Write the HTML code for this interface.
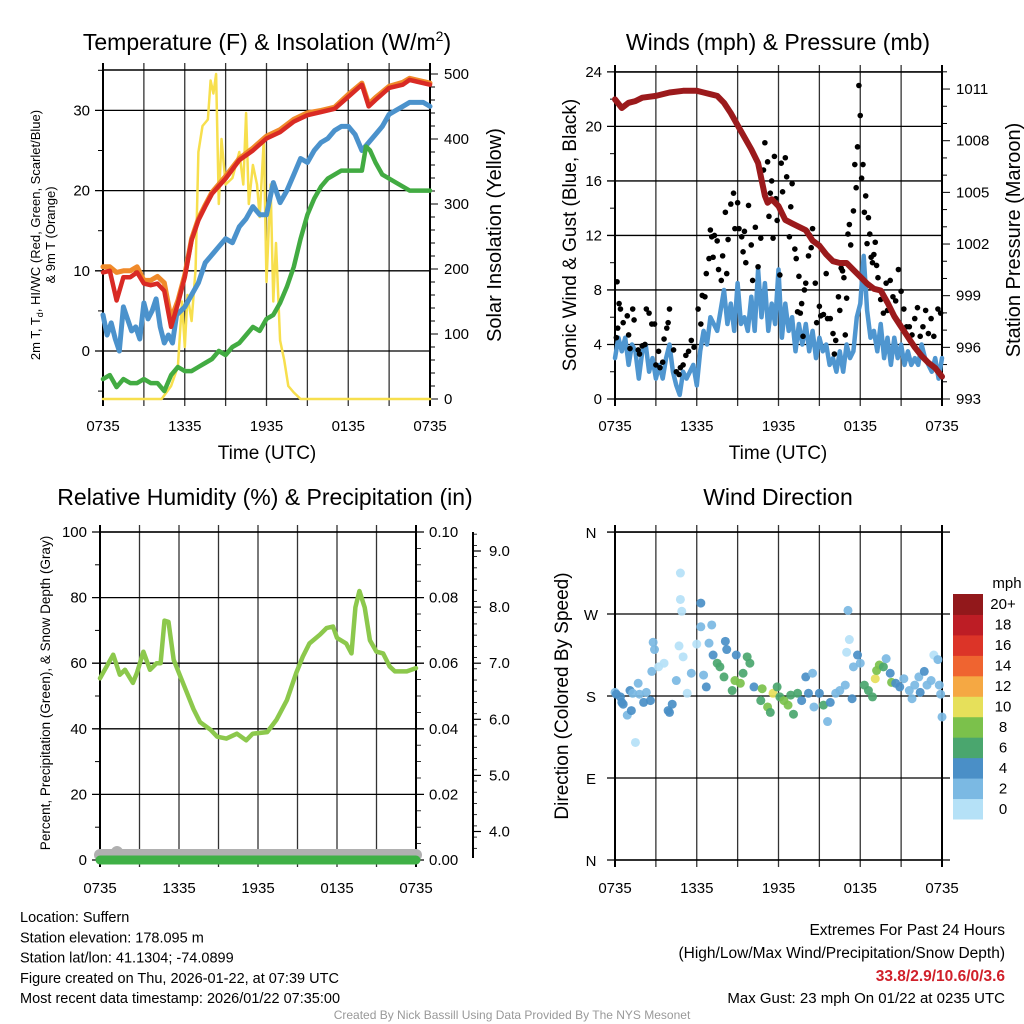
<!DOCTYPE html>
<html><head><meta charset="utf-8"><style>
body{margin:0;background:#fff}
svg{font-family:"Liberation Sans",sans-serif;display:block}
</style></head><body>
<svg id="c" width="1024" height="1024" viewBox="0 0 1024 1024" xmlns="http://www.w3.org/2000/svg"></svg>
<script>
// ---------- DATA ----------
const timeLabels=["0735","1335","1935","0135","0735"];
// Panel 1
const tHours=[0,0.5,1,1.5,2,2.5,3,3.5,4,4.5,5,5.5,6,6.5,7,7.5,8,9,10,11,12,13,14,15,16,17,18,19,19.5,20,21,22,22.5,23,24];
const tempRed=[9.8,10,6.3,9.2,9.2,9.8,8.4,8.2,8.4,7.5,3,5.9,9.2,13.8,16.3,18,19.6,21.5,23.8,25,26.5,27.3,28.6,29.4,29.8,30.2,31.7,33.2,30.5,31.3,32.8,33.2,33.8,33.6,33.2];
const tempOrange=[10.5,10.5,9.8,10,10,10.5,8.8,8.8,9.3,8.5,4,6.3,9.5,14,16.5,18.2,19.8,21.8,24,25.3,26.8,27.6,28.9,29.7,30,30.4,32,33.4,30.8,31.6,33,33.5,34,33.8,33.4];
const bHours=[0,0.3,0.6,0.9,1.2,1.5,1.8,2.1,2.4,2.7,3,3.3,3.6,3.9,4.2,4.5,4.8,5.1,5.4,5.7,6,6.5,7,7.5,8,8.5,9,9.5,10,10.5,11,11.5,12,12.5,13,13.5,14,14.5,15,15.5,16,16.5,17,17.5,18,18.5,19,19.5,20,20.5,21,21.5,22,22.5,23,23.5,24];
const tempBlue=[4.5,2,3.5,1.5,0,5.5,4,2.5,3,1.5,6,4,5,6.5,3,1,2,1,4.5,5,5.5,7,8.5,11,12,13,14,13.5,15.5,16.5,18,17,17,21,18.5,20,22,24,23.5,25,26,26.5,27.5,28,28,27,25,26,27,28,29.5,30,30.5,31,31,31,30.5];
const tempGreen=[-3.5,-3,-4.5,-3.5,-4,-4,-3.5,-4,-4,-5,-3,-2,-2.5,-2.5,-2,-1.5,-1,0,-0.5,0.5,1,2,3,2.5,4,4.5,6,8,10.5,14,17,19,20.5,21.5,22,22.5,22.5,22.5,22.5,25.5,25,23.5,22,21.5,21,20.5,20,20,20];
const gHours=[0,0.5,1,1.5,2,2.5,3,3.5,4,4.5,5,5.5,6,6.5,7,7.5,8,8.5,9,9.5,10,10.5,11,11.5,12,12.5,13,13.5,14,14.5,15,15.5,16,16.5,17,17.5,18,18.5,19,19.3,19.6,20,20.5,21,21.5,22,22.5,23,24];
const sHours=[0,4.3,5,5.5,5.8,6,6.2,6.5,6.8,7,7.3,7.7,7.9,8.1,8.3,8.5,8.7,9,9.5,10,10.3,10.5,10.7,11,11.3,11.5,11.8,12,12.3,12.5,12.7,13,13.3,13.6,14,14.5,24];
const solar=[0,0,20,50,150,80,160,120,200,380,420,430,490,470,500,300,400,330,340,380,330,440,300,360,330,280,400,180,330,150,240,90,60,20,10,0,0];
// Panel 2
const wHours=[0,0.25,0.5,0.75,1,1.25,1.5,1.75,2,2.25,2.5,2.75,3,3.25,3.5,3.75,4,4.25,4.5,4.75,5,5.25,5.5,5.75,6,6.25,6.5,6.75,7,7.25,7.5,7.75,8,8.25,8.5,8.75,9,9.25,9.5,9.75,10,10.25,10.5,10.75,11,11.25,11.5,11.75,12,12.25,12.5,12.75,13,13.25,13.5,13.75,14,14.25,14.5,14.75,15,15.25,15.5,15.75,16,16.25,16.5,16.75,17,17.25,17.5,17.75,18,18.25,18.5,18.75,19,19.25,19.5,19.75,20,20.25,20.5,20.75,21,21.25,21.5,21.75,22,22.25,22.5,22.75,23,23.25,23.5,23.75,24];
const windSpd=[3,4.5,3.5,4.5,2.5,4,3.5,1.5,3.5,4,2,3,1.5,2.5,1.5,3,4,2,1,0.3,2,1.5,2,2.5,1,3.5,5,4,6,5.5,5,6.5,8,5.5,7,5,8.5,5.5,6,5,7.5,5,9.5,6,8.5,5,7,5.5,9.5,4.5,7,5,6,3.5,5.5,4,5.5,3.5,5,3,4.5,3.5,4,2.5,3,2,3.5,2,4,3,3.5,6,7,10.5,6.5,4.5,5,3.5,5.5,3,4.5,2.5,4.5,3,4,2.5,3.5,2.5,3,2.5,4,3,2.5,2,3,1.5,3];
const gustHours=[0.1,0.15,0.2,0.3,0.4,0.6,0.9,1.0,1.1,1.3,1.4,1.7,1.8,2.0,2.2,2.3,2.5,2.7,2.9,3.0,3.2,3.3,3.5,3.6,3.8,3.9,4.0,4.3,4.5,4.7,4.8,5.0,5.2,5.4,5.6,5.8,6.1,6.3,6.4,6.6,6.7,6.9,7.0,7.1,7.2,7.3,7.5,7.6,7.8,7.9,8.1,8.2,8.3,8.5,8.7,8.8,9.0,9.1,9.3,9.4,9.5,9.6,9.8,10.0,10.1,10.3,10.5,10.7,10.9,11.0,11.2,11.3,11.4,11.5,11.6,11.7,11.8,11.9,12.1,12.2,12.3,12.5,12.6,12.8,12.9,13.0,13.2,13.3,13.4,13.5,13.6,13.7,13.8,13.9,14.0,14.1,14.2,14.3,14.4,14.5,14.7,14.8,15.0,15.1,15.3,15.5,15.6,15.8,16.0,16.1,16.2,16.4,16.5,16.6,16.7,16.8,16.9,17.0,17.1,17.2,17.3,17.5,17.6,17.7,17.8,17.9,18.0,18.1,18.2,18.3,18.4,18.5,18.6,18.7,18.8,18.9,19.0,19.1,19.2,19.3,19.5,19.7,19.9,20.0,20.2,20.4,20.6,20.8,21.0,21.2,21.4,21.6,21.8,22.0,22.2,22.4,22.6,22.8,23.0,23.2,23.4,23.7,23.9];
const gustVals=[4.5,8.6,5.2,7,6.6,5.6,6.1,4.7,3.7,6.6,5.8,3.6,3.3,3.9,4,6.6,6.3,5.5,5.5,2.5,3.5,2.3,2.7,4.4,5.2,5.6,6.6,3.6,2,1.8,2.3,2.5,3.2,3.5,4.3,3.8,6.6,5.5,7.6,7.5,9.2,10.3,12.4,11.9,10.4,12,11.6,9.5,8.7,10.5,13.7,9.2,11.7,14.3,15.1,12.5,14.4,12.5,11.9,10.8,12.3,10,14.2,11.3,8.7,12.6,9.7,11.8,16.8,18.8,17.4,13.4,15.1,16,11.8,17.8,14.7,13.1,9.1,17.3,15.2,17.7,16.3,11.9,14.1,15.8,11,10.3,6.4,9,6.3,7,4.6,8,8.5,12.3,10.5,12,11.1,12.5,8.5,5.6,6.8,6.1,6.2,9.2,5.9,5.9,4.8,3.3,4.3,7.5,6.5,9.6,9.4,8.9,4.7,7.4,12.1,12.8,11.3,13.8,17.2,15.5,18.5,23,20.8,16.2,17.2,13.7,14.9,11.4,13.3,12.1,10.4,10,10.6,11.5,9.8,8.9,7.3,6.3,8.5,6.5,8.7,7.5,7.2,9.5,7.9,6.6,5.3,5.3,4.7,5.9,6.7,4.6,5.3,6.5,4.8,5.9,4.6,6.6,6.3];
const pHours=[0,0.5,1,1.5,2,3,4,5,6,6.5,7,7.5,8,8.5,9,10,10.5,11,11.2,11.5,12,12.5,13,13.5,14,14.5,15,15.5,16,16.5,17,17.5,18,18.5,19,19.5,20,20.5,21,21.5,22,22.5,23,23.5,24];
const pressure=[1010.4,1009.9,1010.2,1010.3,1010.5,1010.6,1010.8,1010.9,1010.9,1010.8,1010.7,1010.6,1010.2,1009.6,1008.9,1007.5,1006.7,1004.8,1004.4,1004.6,1004.2,1003.4,1003.2,1003,1002.8,1002.2,1001.9,1001.4,1001,1000.9,1000.9,1000.5,1000.1,999.7,999.4,999.3,998.6,997.8,997.2,996.6,996,995.5,995.1,994.8,994.3];
// Panel 3
const rhHours=[0,1.0,1.5,1.9,2.5,2.8,3.3,3.8,4.3,4.6,4.9,5.2,5.6,6.1,6.6,7.1,7.6,8.4,8.9,9.6,10.4,11.1,11.6,12.7,13.4,14.2,14.9,15.4,15.9,16.7,17.2,17.7,18.0,18.7,19.1,19.4,19.7,20.1,20.5,21.0,21.5,22.0,22.4,23.3,24];
const rhVals=[55.4,62.6,56.5,58,54,57,63.5,58,60,60,73,72.6,61,56,51,46,42,39.7,37.6,37,38.5,36.5,38.5,39,42.7,48.8,57,62,66,68.7,70.7,71.2,67.7,66,63,77,82,77,67,63.5,63,59,57.5,57.5,58.5];
const precipVals=[0,0];
const snowTicks=[4.0,5.0,6.0,7.0,8.0,9.0];
// Panel 4
const dirHours=[0,0.1,0.4,0.5,0.6,0.9,1.1,1.2,1.3,1.5,1.7,1.8,2.1,2.3,2.6,2.7,2.8,2.9,3.2,3.6,3.9,4.0,4.2,4.5,4.7,4.8,4.8,4.9,5.0,5.3,5.6,6.0,6.3,6.3,6.5,6.7,6.9,7.1,7.2,7.5,7.7,8.0,8.1,8.2,8.6,8.8,8.9,9.2,9.4,9.7,9.9,10.2,10.7,10.8,11.2,11.4,11.6,11.9,12.1,12.4,12.7,12.9,13.1,13.4,13.7,14.0,14.2,14.5,14.6,15.0,15.3,15.6,15.8,16.2,16.5,16.9,17.0,17.1,17.2,17.4,17.5,17.8,18.0,18.3,18.6,18.9,19.1,19.2,19.4,19.7,19.9,20.2,20.3,20.6,20.9,21.2,21.6,21.8,22.0,22.3,22.4,22.7,22.9,23.2,23.4,23.7,23.8,23.9,24.0];
const dirDeg=[184,182,179,173,171,159,186,164,183,129,194,182,173,184,175,207,239,231,212,216,164,162,171,197,235,286,315,273,223,183,205,237,282,256,203,190,238,258,225,216,212,201,240,231,186,197,225,194,205,223,216,190,175,188,168,162,183,190,179,175,170,181,160,183,175,201,183,205,168,183,170,152,173,183,186,192,228,274,242,177,212,225,216,192,186,179,199,208,214,212,221,205,195,194,190,199,186,177,192,201,184,207,192,197,225,220,192,182,157];
const dirSpd=[2,4,4,4,4,2,4,4,2,0.5,2,2,4,2,4,2,2,2,1,1,4,4,4,2,1,1,0,0,1,0,2,1,4,2,2,4,2,2,4,6,6,6,4,4,6,8,4,8,6,6,6,4,6,8,8,6,10,6,6,8,8,6,6,6,4,4,4,2,2,4,6,2,4,2,2,2,0,2,1,4,2,4,2,6,6,6,10,8,8,6,2,4,8,4,4,2,2,2,2,2,4,4,2,2,1,2,2,2,2];
const cbLabels=["0","2","4","6","8","10","12","14","16","18","20+"];
const cbColors=["#b5e1f7","#7bb9e3","#4a8fc7","#4aa66e","#7bc14b","#e6e05a","#f5a843","#ef6430","#dc3428","#bd1d25","#92181b"];

// ---------- HELPERS ----------
const NS="http://www.w3.org/2000/svg";
const svg=document.getElementById('c');
function el(tag,attrs,parent,text){const e=document.createElementNS(NS,tag);for(const k in attrs)e.setAttribute(k,attrs[k]);if(text!==undefined)e.textContent=text;(parent||svg).appendChild(e);return e;}
function grp(name){const g=el('g',{},svg);return g;}
function line(g,x1,y1,x2,y2,w,c){return el('line',{x1,y1,x2,y2,stroke:c||'#000','stroke-width':w||1},g);}
function txt(g,x,y,s,size,anchor,extra){const a=Object.assign({x,y,'font-size':size,'text-anchor':anchor||'middle',fill:'#000'},extra||{});return el('text',a,g,s);}
function poly(g,xs,ys,fx,fy,w,c,name){let d='';for(let i=0;i<xs.length;i++)d+=(i?'L':'M')+fx(xs[i]).toFixed(1)+','+fy(ys[i]).toFixed(1);const p=el('path',{d,fill:'none',stroke:c,'stroke-width':w,'stroke-linejoin':'round','stroke-linecap':'round'},g);return p;}

function frame(g,L,R,T,B){
  for(let i=0;i<=8;i++){const x=L+(R-L)*i/8;line(g,x,T-7,x,B+7,i%8==0?2:1.3,i%8==0?'#000':'#333');}
  line(g,L,T,R,T,1.5);line(g,L,B,R,B,1.5);
}
function xLabels(g,L,R,y){for(let i=0;i<5;i++)txt(g,L+(R-L)*i/4,y,timeLabels[i],15);}

// ---------- PANEL 1 ----------
(function(){
const g=grp('temperature-panel');
const L=103,R=430,T=70,B=399;
const fx=h=>L+(R-L)*h/24, fy=v=>351-8.02*v, fs=v=>399-0.65*v;
frame(g,L,R,T,B);
[0,10,20,30].forEach(v=>{line(g,L-8,fy(v),R,fy(v),1.3);txt(g,L-13,fy(v)+5,String(v),15,'end');});
[-5,5,15,25,35].forEach(v=>line(g,L-5,fy(v),L,fy(v),1));
for(let v=0;v<=500;v+=20){line(g,R,fs(v),R+(v%100==0?8:5),fs(v),1);if(v%100==0)txt(g,R+14,fs(v)+5,String(v),15,'start');}
line(g,L,T,L,B,2);line(g,R,T,R,B,2);
poly(g,sHours,solar,fx,fs,2.5,'#f7df4d','solar-insolation-line');
poly(g,tHours,tempOrange,fx,fy,5,'#f08a2a','9m-temp-line');
poly(g,bHours,tempBlue,fx,fy,5,'#4b92cc','wind-chill-line');
poly(g,gHours,tempGreen,fx,fy,4.5,'#42ab42','dewpoint-line');
poly(g,tHours,tempRed,fx,fy,4.5,'#d92a24','temperature-line');
xLabels(g,L,R,431);
const t=txt(g,267,50,'Temperature (F) & Insolation (W/m',23);
el('tspan',{dy:-9,'font-size':14},t,'2');el('tspan',{dy:9},t,')');
txt(g,267,459,'Time (UTC)',19);
const yt=el('text',{transform:'translate(40,235) rotate(-90)','font-size':13,'text-anchor':'middle'},g);
el('tspan',{x:0,y:0},yt,'2m T, T');el('tspan',{dy:3,'font-size':9},yt,'d');el('tspan',{dy:-3},yt,', HI/WC (Red, Green, Scarlet/Blue)');
el('tspan',{x:0,y:15},yt,'& 9m T (Orange)');
el('text',{transform:'translate(501,235) rotate(-90)','font-size':20,'text-anchor':'middle'},g,'Solar Insolation (Yellow)');
})();

// ---------- PANEL 2 ----------
(function(){
const g=grp('winds-panel');
const L=615,R=942,T=72,B=399;
const fx=h=>L+(R-L)*h/24, fy=v=>399-13.63*v, fp=p=>399-(p-993)*17.22;
frame(g,L,R,T,B);
[0,4,8,12,16,20,24].forEach(v=>{line(g,L-8,fy(v),R,fy(v),1.3);txt(g,L-13,fy(v)+5,String(v),15,'end');});
for(let v=2;v<24;v+=4)line(g,L-5,fy(v),L,fy(v),1);
for(let p=993;p<=1012;p++){if(fp(p)<T-1)continue;line(g,R,fp(p),R+((p-993)%3==0?8:5),fp(p),1);if((p-993)%3==0)txt(g,R+14,fp(p)+5,String(p),15,'start');}
line(g,L,T,L,B,2);line(g,R,T,R,B,2);
poly(g,wHours,windSpd,fx,fy,4.5,'#4f96d0','sonic-wind-line');
gustHours.forEach((h,i)=>{const c=el('circle',{cx:fx(h),cy:fy(gustVals[i]),r:2.8,fill:'#000'},g);

});
poly(g,pHours,pressure,fx,fp,6,'#9b1a1c','pressure-line');
xLabels(g,L,R,431);
txt(g,778,50,'Winds (mph) & Pressure (mb)',23);
txt(g,778,459,'Time (UTC)',19);
el('text',{transform:'translate(576,235) rotate(-90)','font-size':19,'text-anchor':'middle'},g,'Sonic Wind & Gust (Blue, Black)');
el('text',{transform:'translate(1020,240) rotate(-90)','font-size':20,'text-anchor':'middle'},g,'Station Pressure (Maroon)');
})();

// ---------- PANEL 3 ----------
(function(){
const g=grp('humidity-panel');
const L=100,R=416,T=532,B=860;
const fx=h=>L+(R-L)*h/24, fy=v=>860-3.28*v;
frame(g,L,R,T,B);
for(let v=0;v<=100;v+=20){line(g,L-8,fy(v),R+8,fy(v),1.3);txt(g,L-13,fy(v)+5,String(v),15,'end');txt(g,R+13,fy(v)+5,(v/1000).toFixed(2),15,'start');}
for(let v=10;v<100;v+=20)line(g,L-5,fy(v),L,fy(v),1);
for(let v=0;v<=100;v+=5)line(g,R,fy(v),R+5,fy(v),0.8);
line(g,L,T,L,B,2);line(g,R,T,R,B,2);
const ps=el('path',{d:`M${L},${B-5}L${R},${B-5}`,stroke:'#b0b0b0','stroke-width':12,'stroke-linecap':'round'},g);

el('circle',{cx:117,cy:852,r:6,fill:'#b0b0b0'},g);
poly(g,[0,24],precipVals,fx,fy,9,'#3fb046','precipitation-line');
poly(g,rhHours,rhVals,fx,fy,4.5,'#8cc84c','humidity-line');
const sx=473, fsn=v=>551-(v-9)*56.1;
line(g,sx,T,sx,B-2,2);
for(let v=3.7;v<=9.6;v+=0.2){const y=fsn(v);if(y<T||y>B)continue;line(g,sx,y,sx+4,y,0.8);}
snowTicks.forEach(v=>{line(g,sx,fsn(v),sx+8,fsn(v),1.2);txt(g,sx+16,fsn(v)+5,v.toFixed(1),15,'start');});
xLabels(g,L,R,893);
txt(g,265,505,'Relative Humidity (%) & Precipitation (in)',23);
el('text',{transform:'translate(50,693) rotate(-90)','font-size':13.5,'text-anchor':'middle'},g,'Percent, Precipitation (Green), & Snow Depth (Gray)');
})();

// ---------- PANEL 4 ----------
(function(){
const g=grp('wind-direction-panel');
const L=615,R=942,T=532,B=860;
const fx=h=>L+(R-L)*h/24, fy=d=>860-d*0.911;
frame(g,L,R,T,B);
['N','E','S','W','N'].forEach((s,i)=>{const y=fy(i*90);line(g,L-8,y,R+8,y,1.3);txt(g,591,y+6,s,15);});
line(g,L,T,L,B,2);line(g,R,T,R,B,2);
dirHours.forEach((h,i)=>{const b=Math.min(10,Math.floor(dirSpd[i]/2));const c=el('circle',{cx:fx(h),cy:fy(dirDeg[i]),r:4.5,fill:cbColors[b],'fill-opacity':0.92},g);

});
xLabels(g,L,R,893);
txt(g,778,505,'Wind Direction',23);
el('text',{transform:'translate(568,696) rotate(-90)','font-size':19,'text-anchor':'middle'},g,'Direction (Colored By Speed)');
const cb=grp('speed-colorbar');
const h=225/11;
cbColors.forEach((c,i)=>{el('rect',{x:953,y:819-(i+1)*h,width:30,height:h+0.5,fill:c},cb);txt(cb,1003,819-(i+0.5)*h+5,cbLabels[i],15);});
txt(cb,1007,588,'mph',15);
})();

// ---------- FOOTER ----------
(function(){
const g=grp('station-info');
['Location: Suffern','Station elevation: 178.095 m','Station lat/lon: 41.1304; -74.0899','Figure created on Thu, 2026-01-22, at 07:39 UTC','Most recent data timestamp: 2026/01/22 07:35:00'].forEach((s,i)=>txt(g,20,922+i*20.3,s,14.5,'start'));
const e=grp('extremes-info');
txt(e,1005,935,'Extremes For Past 24 Hours',15.5,'end');
txt(e,1005,958,'(High/Low/Max Wind/Precipitation/Snow Depth)',15.5,'end');
txt(e,1005,981,'33.8/2.9/10.6/0/3.6',15.5,'end',{fill:'#d0202a','font-weight':'bold'});
txt(e,1005,1003,'Max Gust: 23 mph On 01/22 at 0235 UTC',15,'end');
const cr=txt(svg,512,1019,'Created By Nick Bassill Using Data Provided By The NYS Mesonet',12,'middle',{fill:'#999'});

})();
</script>
</body></html>
